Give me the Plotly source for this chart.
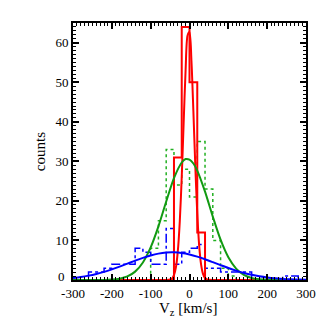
import plotly.graph_objects as go

# ---- data ----
bin_edges = [-300, -280, -260, -240, -220, -200, -180, -160, -140, -120, -100, -80, -60, -40, -20,
             0, 20, 40, 60, 80, 100, 120, 140, 160, 180, 200, 220, 240, 260, 280, 300]

green_counts = [0, 0, 0, 0, 0, 0, 0, 0, 0, 0, 8, 15, 33, 24, 28,
                21, 35, 23, 10, 3, 1, 0, 0, 0, 0, 0, 0, 0, 0, 0]
blue_counts = [0, 0, 2, 2, 3, 4, 4, 4, 8, 7, 4, 4, 13, 4, 7,
               8, 9, 3, 3, 2, 2, 2, 2, 0, 0, 0, 0, 1, 1, 0]
red_counts = [0, 0, 0, 0, 0, 0, 0, 0, 0, 0, 0, 0, 0, 31, 64,
              50, 12, 0, 0, 0, 0, 0, 0, 0, 0, 0, 0, 0, 0, 0]

# fitted curves
green_fit_x = [-300, -280, -260, -240, -220, -200, -180, -160, -140, -120, -100, -80, -60, -40, -20,
               -10, 0, 10, 20, 40, 60, 80, 100, 120, 140, 160, 180, 200, 220, 240, 260, 280, 300]
green_fit_y = [0, 0, 0, 0.01, 0.03, 0.11, 0.34, 0.90, 2.12, 4.44, 8.23, 13.56, 19.84, 25.77, 29.72,
               30.59, 30.44, 29.46, 27.68, 22.34, 16.02, 10.19, 5.76, 2.89, 1.29, 0.51, 0.18, 0.06, 0.02, 0, 0, 0, 0]

blue_fit_x = [-300, -280, -260, -240, -220, -200, -180, -160, -140, -120, -100, -80, -60, -40, -20,
              0, 20, 40, 60, 80, 100, 120, 140, 160, 180, 200, 220, 240, 260, 280, 300]
blue_fit_y = [0.52, 0.77, 1.11, 1.54, 2.06, 2.69, 3.39, 4.13, 4.89, 5.59, 6.20, 6.67, 6.94, 6.99, 6.83,
              6.46, 5.92, 5.25, 4.51, 3.76, 3.03, 2.36, 1.79, 1.31, 0.93, 0.64, 0.43, 0.28, 0.17, 0.10, 0.06]

red_fit_x = [-300, -70, -60, -50, -45, -40, -35, -30, -25, -20, -15, -10, -5, 0, 5,
             10, 15, 20, 25, 30, 35, 40, 45, 50, 60, 70, 300]
red_fit_y = [0, 0, 0.01, 0.11, 0.40, 1.21, 3.19, 7.38, 14.85, 26.06, 39.88, 53.19, 61.85, 62.70, 55.42,
             42.71, 28.69, 16.81, 8.58, 3.82, 1.48, 0.50, 0.15, 0.04, 0, 0, 0]

x_tick_vals = [-300, -200, -100, 0, 100, 200, 300]
x_tick_text = ["-300", "-200", "-100", "0", "100", "200", "300"]
y_tick_vals = [0, 10, 20, 30, 40, 50, 60]
y_tick_text = ["0", "10", "20", "30", "40", "50", "60"]

tick_font = dict(family="Liberation Serif", size=13, color="black")


def step_outline(edges, counts):
    xs = [edges[0]]
    ys = [0]
    for i, c in enumerate(counts):
        xs += [edges[i], edges[i + 1]]
        ys += [c, c]
    xs.append(edges[-1])
    ys.append(0)
    return xs, ys


fig = go.Figure()

gx, gy = step_outline(bin_edges, green_counts)
fig.add_trace(go.Scatter(x=gx, y=gy, mode="lines",
                         line=dict(color="#22b022", width=1.5, dash="dot")))
bx, by = step_outline(bin_edges, blue_counts)
fig.add_trace(go.Scatter(x=bx, y=by, mode="lines",
                         line=dict(color="#0000ff", width=1.5, dash="dashdot")))
rx, ry = step_outline(bin_edges, red_counts)
fig.add_trace(go.Scatter(x=rx, y=ry, mode="lines",
                         line=dict(color="#ff0000", width=2)))

fig.add_trace(go.Scatter(x=red_fit_x, y=red_fit_y, mode="lines",
                         line=dict(color="#ff0000", width=2, shape="spline", smoothing=0.8)))
fig.add_trace(go.Scatter(x=green_fit_x, y=green_fit_y, mode="lines",
                         line=dict(color="#119a11", width=2, shape="spline", smoothing=0.8)))
fig.add_trace(go.Scatter(x=blue_fit_x, y=blue_fit_y, mode="lines",
                         line=dict(color="#0000ff", width=2, shape="spline", smoothing=0.8)))

axis_common = dict(
    showline=True, linecolor="black", linewidth=2, mirror="allticks",
    ticks="inside", tickcolor="black", tickwidth=1.5, ticklen=6,
    showgrid=False, zeroline=False, automargin=False,
    tickfont=tick_font,
)

fig.update_xaxes(range=[-300, 300], tickvals=x_tick_vals, ticktext=x_tick_text,
                 minor=dict(dtick=10, ticks="inside", ticklen=3, tickcolor="black", tickwidth=1),
                 **axis_common)
# the lowest y label is drawn as an annotation, raised a little as in the reference
fig.update_yaxes(range=[0, 65], tickvals=y_tick_vals[1:], ticktext=y_tick_text[1:],
                 minor=dict(dtick=1, ticks="inside", ticklen=3, tickcolor="black", tickwidth=1),
                 **axis_common)

fig.add_annotation(text=y_tick_text[0], xref="paper", yref="y", x=0, y=y_tick_vals[0],
                   xanchor="right", yanchor="middle", xshift=-6, yshift=4,
                   showarrow=False, font=tick_font)

fig.add_annotation(text="counts", xref="paper", yref="paper", x=-0.143, y=0.5,
                   textangle=-90, showarrow=False, xanchor="center", yanchor="middle",
                   font=dict(family="Liberation Serif", size=15, color="black"))
fig.add_annotation(text="V<sub>z</sub> [km/s]", xref="paper", yref="paper", x=0.495, y=-0.113,
                   showarrow=False, xanchor="center", yanchor="middle",
                   font=dict(family="Liberation Serif", size=15, color="black"))

# the page body adds an 8 px offset, so margins are reduced on the left/top
fig.update_layout(
    width=327, height=327,
    margin=dict(l=65, r=29, t=15, b=55),
    paper_bgcolor="white", plot_bgcolor="white",
    showlegend=False,
)

fig.write_html("out.html")
